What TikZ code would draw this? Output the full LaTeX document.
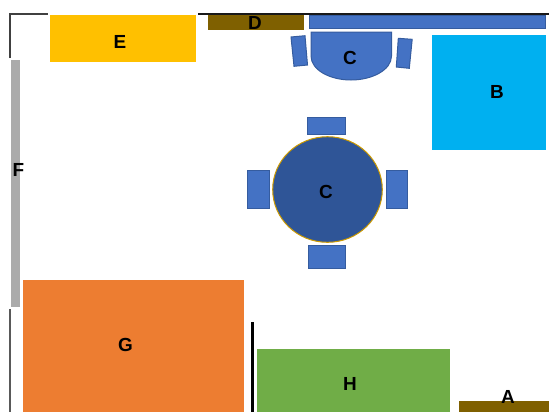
\documentclass[tikz,border=0pt]{standalone}
\usepackage{fontspec}
\setmainfont{Liberation Sans}
\definecolor{cblue}{HTML}{4472C4}
\definecolor{cedge}{HTML}{2F528F}
\definecolor{cround}{HTML}{2F5597}
\definecolor{cgold}{HTML}{FFC000}
\definecolor{corange}{HTML}{ED7D31}
\definecolor{cgreen}{HTML}{70AD47}
\definecolor{cbrown}{HTML}{7F6000}
\definecolor{ccyan}{HTML}{00B0F0}
\definecolor{cgrey}{HTML}{ABABAB}
\tikzset{
  wall/.style={draw=black!75,line width=1.1pt,line cap=butt},
  inner wall/.style={draw=black,line width=2.2pt},
  furn/.style={fill=cblue,draw=cedge!70!cblue,line width=0.75pt},
  lab/.style={font=\bfseries\fontsize{14.2pt}{16pt}\selectfont,text=black,inner sep=0pt}
}
\begin{document}
\begin{tikzpicture}[x=0.75pt,y=-0.75pt]
\useasboundingbox (0,0) rectangle (549,412);
\clip (0,0) rectangle (549,412);
% walls
\draw[wall] (10,58) -- (10,14) -- (48,14);
\draw[wall,draw=black!90] (198,14) -- (549,14);
\draw[wall,draw=black!65] (10,309) -- (10,412);
\draw[inner wall] (252.5,322) -- (252.5,412);
% flat furniture
\fill[cgold] (50,15) rectangle (195.5,61.5);
\fill[cbrown] (207.5,15) rectangle (303.5,29.5);
\fill[ccyan] (432.3,34.5) rectangle (546,149.5);
\fill[cgrey] (11,60) rectangle (20,307);
\fill[corange] (22.5,279.7) rectangle (243.5,412);
\fill[cgreen] (257,348.5) rectangle (449.5,412);
\fill[cbrown] (458.5,400.5) rectangle (549,412);
% blue furniture, top
\draw[furn] (309.7,15.5) rectangle (545,28);
\draw[furn] (311,32) -- (391.5,32) -- (391.5,56)
  .. controls (391.5,70) and (372,80) .. (351,80)
  .. controls (330,80) and (311,70) .. (311,56) -- cycle;
\draw[furn] (291,37) -- (305,35.7) -- (307.5,65) -- (294,66.3) -- cycle;
\draw[furn] (398.3,38.3) -- (412.2,39.3) -- (409.3,68.3) -- (396.3,67) -- cycle;
% round table and chairs
\draw[furn] (307.7,117.5) rectangle (345,134.3);
\draw[furn] (308,245.7) rectangle (345.3,268);
\draw[furn] (247.5,170.5) rectangle (269.3,208);
\draw[furn] (386,170.5) rectangle (407.7,208);
\draw[fill=cround,draw=cgold!80!black,line width=0.75pt] (327.5,189.5) ellipse [x radius=54.8,y radius=52.8];
% labels
\node[lab] (labE) at (120,42) {E};
\node[lab] (labD) at (255,23) {D};
\node[lab] (labCa) at (350,58) {C};
\node[lab] (labB) at (497,92) {B};
\node[lab] (labCb) at (326,191.5) {C};
\node[lab] (labF) at (18.5,169.5) {F};
\node[lab] (labG) at (125.5,345) {G};
\node[lab] (labH) at (350,384) {H};
\node[lab] (labA) at (508,397) {A};
\end{tikzpicture}
\end{document}
